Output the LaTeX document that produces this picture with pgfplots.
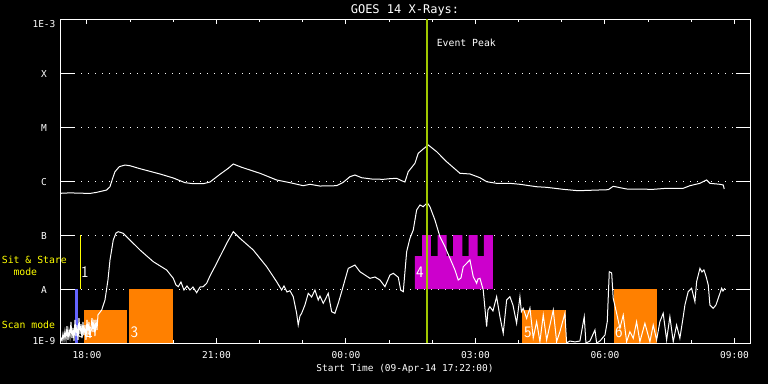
\documentclass[border=0pt]{standalone}
\usepackage{pgfplots}
\pgfplotsset{compat=1.18}
\usepackage{fontspec}
\newfontfamily\idl{DejaVu Sans Mono}
\definecolor{evt}{RGB}{160,200,0}
\definecolor{orng}{RGB}{255,128,0}
\definecolor{mag}{RGB}{204,0,204}
\definecolor{bluebar}{RGB}{100,100,255}
\definecolor{yel}{RGB}{255,255,0}
\begin{document}
\begin{tikzpicture}
\fill[black] (0pt,0pt) rectangle (768pt,384pt);
\begin{axis}[
  at={(60pt,41pt)}, anchor=south west,
  scale only axis, width=690pt, height=324pt,
  xmin=17.375, xmax=33.36, ymin=-9, ymax=-3,
  axis line style={white, line width=1pt},
  tick style={white, line width=1pt},
  xtick={18,21,24,27,30,33},
  xticklabels={18:00,21:00,00:00,03:00,06:00,09:00},
  minor xtick={19,20,22,23,25,26,28,29,31,32},
  xtick style={/pgfplots/major tick length=5pt,/pgfplots/minor tick length=3pt},
  ytick={-9,-8,-7,-6,-5,-4,-3},
  yticklabels={\raisebox{3pt}{1E-9},A,B,C,M,X,\raisebox{-4pt}{1E-3}},
  ytick style={/pgfplots/major tick length=14pt},
  ymajorgrids,
  grid style={white, line width=1pt, dash pattern=on 1pt off 6pt},
  xticklabel style={font={\fontsize{9.5}{11}\idl}, text=white, anchor=base, yshift=-15.5pt},
  yticklabel style={font={\fontsize{9.5}{11}\idl}, text=white, anchor=base, xshift=-16pt, yshift=-4.5pt},
  every axis title/.style={at={(axis description cs:0.5,1)}, anchor=base, yshift=5.4pt, font={\fontsize{12}{14}\idl}, text=white},
  every axis x label/.style={at={(axis description cs:0.5,0)}, anchor=base, yshift=-28.7pt, font={\fontsize{9.5}{11}\idl}, text=white},
  title={GOES 14 X-Rays:},
  xlabel={Start Time (09-Apr-14 17:22:00)},
]
% observation bars
\addplot[fill=bluebar, draw=none] coordinates {(17.722,-9) (17.722,-8) (17.785,-8) (17.785,-9)} -- cycle;
\addplot[yel, line width=1pt] coordinates {(17.85,-8) (17.85,-7)};
\addplot[fill=orng, draw=none] coordinates {(17.931,-9) (17.931,-8.389) (18.920,-8.389) (18.920,-9)} -- cycle;
\addplot[fill=orng, draw=none] coordinates {(18.973,-9) (18.973,-8) (19.985,-8) (19.985,-9)} -- cycle;
\addplot[fill=mag, draw=none] coordinates {(25.598,-8) (25.598,-7.389) (25.767,-7.389) (25.767,-7) (25.969,-7) (25.969,-7.389) (26.124,-7.389) (26.124,-7) (26.332,-7) (26.332,-7.389) (26.485,-7.389) (26.485,-7) (26.694,-7) (26.694,-7.389) (26.842,-7.389) (26.842,-7) (27.050,-7) (27.050,-7.389) (27.196,-7.389) (27.196,-7) (27.405,-7) (27.405,-8)} -- cycle;
\addplot[fill=orng, draw=none] coordinates {(28.07,-9) (28.07,-8.389) (29.089,-8.389) (29.089,-9)} -- cycle;
\addplot[fill=orng, draw=none] coordinates {(30.208,-9) (30.208,-8) (31.197,-8) (31.197,-9)} -- cycle;
% long channel
\addplot[white, line width=1pt] coordinates {
(17.375,-6.228) (17.6,-6.22) (18.07,-6.23) (18.225,-6.21) (18.456,-6.167) (18.533,-6.106) (18.595,-5.95) (18.649,-5.828) (18.748,-5.735) (18.880,-5.704) (18.996,-5.717) (19.228,-5.772) (19.691,-5.870) (19.999,-5.944) (20.270,-6.031) (20.462,-6.05) (20.694,-6.05) (20.849,-6.019) (21.081,-5.876) (21.273,-5.765) (21.389,-5.685) (21.584,-5.746) (22.007,-5.857) (22.394,-5.981) (22.702,-6.031) (23.010,-6.087) (23.166,-6.061) (23.397,-6.093) (23.784,-6.087) (23.937,-6.024) (24.092,-5.920) (24.208,-5.889) (24.363,-5.939) (24.595,-5.963) (24.864,-5.969) (25.019,-5.957) (25.174,-5.950) (25.290,-5.994) (25.366,-6.019) (25.443,-5.828) (25.598,-5.672) (25.674,-5.487) (25.790,-5.407) (25.906,-5.333) (26.101,-5.457) (26.332,-5.643) (26.640,-5.857) (26.872,-5.870) (27.104,-5.939) (27.259,-6.013) (27.490,-6.043) (27.798,-6.043) (28.030,-6.061) (28.417,-6.106) (28.649,-6.117) (29.033,-6.154) (29.381,-6.180) (29.652,-6.172) (30.076,-6.161) (30.191,-6.098) (30.502,-6.148) (31.118,-6.154) (31.428,-6.135) (31.813,-6.135) (31.968,-6.087) (32.200,-6.043) (32.355,-5.981) (32.431,-6.043) (32.663,-6.061) (32.740,-6.074) (32.763,-6.148)
};
% short channel
\addplot[white, line width=1pt] coordinates {
(17.375,-8.96) (17.398,-8.91) (17.421,-8.96) (17.444,-8.83) (17.467,-8.94) (17.490,-8.78) (17.514,-8.93) (17.537,-8.69) (17.560,-8.94) (17.583,-8.76) (17.606,-8.89) (17.629,-8.61) (17.653,-8.91) (17.676,-8.72) (17.699,-8.96) (17.722,-8.57) (17.745,-8.87) (17.768,-8.67) (17.792,-8.94) (17.815,-8.54) (17.838,-8.83) (17.861,-8.65) (17.884,-8.91) (17.907,-8.61) (17.931,-8.85) (17.954,-8.67) (17.977,-8.94) (18.000,-8.57) (18.023,-8.83) (18.046,-8.61) (18.069,-8.91) (18.116,-8.54) (18.139,-8.80) (18.162,-8.57) (18.185,-8.87) (18.208,-8.57) (18.232,-8.76) (18.255,-8.48) (18.301,-8.43)
(18.341,-8.389) (18.417,-8.204) (18.486,-7.833) (18.533,-7.463) (18.609,-7.093) (18.672,-6.963) (18.725,-6.939) (18.841,-6.969) (18.996,-7.093) (19.228,-7.278) (19.536,-7.494) (19.846,-7.648) (19.999,-7.802) (20.062,-7.926) (20.115,-7.957) (20.177,-7.87) (20.247,-8.019) (20.316,-7.944) (20.386,-8.019) (20.455,-7.963) (20.541,-8.069) (20.618,-7.963) (20.694,-7.957) (20.773,-7.894) (20.849,-7.759) (21.004,-7.524) (21.236,-7.154) (21.389,-6.939) (21.544,-7.061) (21.852,-7.278) (22.163,-7.587) (22.394,-7.865) (22.510,-8.019) (22.563,-7.944) (22.633,-8.056) (22.702,-8.031) (22.779,-8.143) (22.857,-8.45) (22.894,-8.667) (22.934,-8.5) (22.973,-8.45) (23.049,-8.296) (23.126,-8.08) (23.205,-8.148) (23.281,-8.019) (23.358,-8.204) (23.397,-8.13) (23.474,-8.265) (23.536,-8.167) (23.589,-8.08) (23.668,-8.42) (23.744,-8.45) (23.821,-8.265) (23.900,-8.05) (23.976,-7.833) (24.053,-7.617) (24.208,-7.556) (24.324,-7.68) (24.44,-7.741) (24.556,-7.802) (24.672,-7.778) (24.787,-7.833) (24.903,-7.957) (25.019,-7.741) (25.096,-7.709) (25.212,-7.783) (25.267,-8.019) (25.327,-8.05) (25.406,-7.309) (25.482,-7.061) (25.559,-6.907) (25.637,-6.537) (25.714,-6.444) (25.790,-6.476) (25.883,-6.402) (25.945,-6.476) (26.061,-6.722) (26.177,-7.031) (26.293,-7.217) (26.409,-7.431) (26.525,-7.648) (26.601,-7.833) (26.664,-7.796) (26.717,-7.587) (26.872,-7.463) (26.948,-7.772) (27.027,-7.894) (27.057,-7.815) (27.104,-7.802) (27.180,-8.019) (27.259,-8.698) (27.289,-8.389) (27.335,-8.328) (27.405,-8.407) (27.490,-8.143) (27.567,-8.513) (27.643,-8.82) (27.722,-8.204) (27.798,-8.143) (27.868,-8.296) (27.953,-8.635) (28.030,-8.143)
(28.064,-8.42) (28.106,-8.357) (28.185,-8.543) (28.262,-8.352) (28.338,-8.907) (28.417,-8.606) (28.493,-8.976) (28.570,-8.481) (28.649,-8.944) (28.725,-8.667) (28.802,-8.389) (28.880,-8.976) (28.956,-8.791) (29.072,-8.45) (29.111,-9.0) (29.188,-8.963) (29.304,-8.98) (29.420,-8.963) (29.520,-8.513) (29.559,-9) (29.652,-8.963) (29.768,-8.759) (29.807,-9) (29.884,-8.963) (30.000,-8.852) (30.053,-8.606) (30.100,-7.68) (30.155,-7.704) (30.191,-8.172) (30.270,-8.45) (30.346,-8.728) (30.423,-8.481) (30.502,-8.976) (30.578,-8.791) (30.655,-8.913) (30.733,-8.606) (30.809,-8.976) (30.925,-8.635) (31.041,-8.976) (31.118,-8.667) (31.196,-8.944) (31.272,-8.606) (31.349,-8.45) (31.428,-8.944) (31.504,-8.513) (31.581,-8.976) (31.659,-8.667) (31.735,-8.913) (31.813,-8.513) (31.852,-8.296) (31.928,-8.05) (32.007,-7.987) (32.084,-8.235) (32.123,-7.865) (32.200,-7.617) (32.247,-7.685) (32.293,-7.648) (32.339,-7.759) (32.393,-7.926) (32.431,-8.296) (32.508,-8.357) (32.571,-8.296) (32.624,-8.172) (32.703,-7.987) (32.733,-8.037) (32.779,-7.987)
};
% event peak
\addplot[evt, line width=2pt] coordinates {(25.869,-9) (25.869,-3)};
\node[anchor=base west, inner sep=0pt, text=white, font={\fontsize{9.8}{11}\idl}] at (axis cs:26.10,-3.513) {Event Peak};
% event numbers
\begin{scope}[every node/.style={text=white, inner sep=0pt, anchor=center, font={\fontsize{16}{18}\sffamily}}]
\node at (axis cs:17.861,-8.806) {0};
\node at (axis cs:17.954,-7.685) {1};
\node at (axis cs:18.051,-8.806) {2};
\node at (axis cs:19.10,-8.806) {3};
\node at (axis cs:25.714,-7.694) {4};
\node at (axis cs:28.215,-8.796) {5};
\node at (axis cs:30.323,-8.796) {6};
\end{scope}
\end{axis}
\begin{scope}[every node/.style={text=yel, inner sep=0pt, anchor=base west, font={\fontsize{9.8}{11}\idl}}]
\node at (1.7pt,120.7pt) {Sit \& Stare};
\node at (13.3pt,109pt) {mode};
\node at (1.7pt,55.7pt) {Scan mode};
\end{scope}
\pgfresetboundingbox
\path[use as bounding box] (0pt,0pt) rectangle (768pt,384pt);
\end{tikzpicture}
\end{document}
